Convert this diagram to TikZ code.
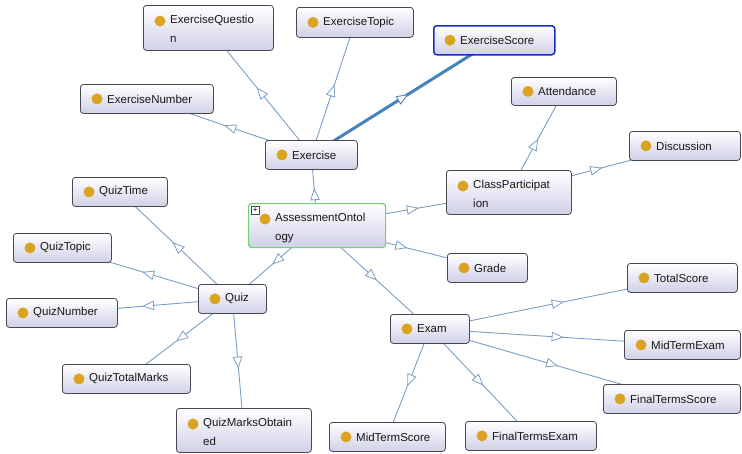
\documentclass[tikz,border=0pt]{standalone}
\usepackage{fontspec}
\setmainfont{Liberation Sans}
\usetikzlibrary{arrows.meta,decorations.markings}
\pgfdeclarelayer{bg}
\pgfsetlayers{bg,main}

\definecolor{edgec}{RGB}{122,158,196}
\definecolor{thickc}{RGB}{70,130,190}
\definecolor{boxbot}{RGB}{208,208,232}
\definecolor{boxline}{RGB}{72,72,80}
\definecolor{dotc}{RGB}{218,164,34}
\definecolor{selc}{RGB}{26,44,190}
\definecolor{rootc}{RGB}{110,210,110}
\definecolor{txtc}{RGB}{24,24,24}

\tikzset{
  clsbox/.style={draw=boxline, line width=0.8pt, rounded corners=3pt,
    top color=white, bottom color=boxbot, inner sep=0pt},
  selbox/.style={clsbox, draw=selc, line width=1.5pt},
  rootbox/.style={clsbox, draw=rootc, line width=1.2pt},
  lbl/.style={inner sep=0pt, text=txtc, align=left,
    font=\fontsize{11.5}{19}\selectfont},
  subarrow/.style={postaction={decorate}, decoration={markings,
    mark=at position 0.53 with {\arrow{Triangle[length=12pt, width=9.5pt,
      line width=0.8pt, fill=white]}}}},
  edge/.style={draw=edgec, line width=0.9pt, subarrow},
  thickedge/.style={draw=thickc, line width=3pt, subarrow},
}

% class box with one line of text: style, name, x1, y1, x2, y2, text
\newcommand\cbox[7]{%
  \node[#1, minimum width=#5-#3, minimum height=#6-#4, anchor=north west] (#2) at (#3,#4) {};
  \fill[dotc] ([xshift=17pt]#2.west) circle (5.5pt);
  \node[lbl, anchor=west] (#2-t) at ([xshift=27pt]#2.west) {#7};
}
% class box with text broken over two lines
\newcommand\cboxtwo[8]{%
  \node[#1, minimum width=#5-#3, minimum height=#6-#4, anchor=north west] (#2) at (#3,#4) {};
  \fill[dotc] ([xshift=17pt,yshift=-16pt]#2.north west) circle (5.5pt);
  \node[lbl, anchor=north west] (#2-t) at ([xshift=27pt,yshift=-10pt]#2.north west) {#7\\#8};
}

\begin{document}
\begin{tikzpicture}[x=1pt, y=-1pt]
\useasboundingbox (0,0) rectangle (742,453);

% classes
\cboxtwo{clsbox}{eq}{143}{5}{273}{50}{ExerciseQuestio}{n}
\cbox{clsbox}{et}{296}{7}{413}{37}{ExerciseTopic}
\cbox{selbox}{es}{433}{25}{554}{54}{ExerciseScore}
\cbox{clsbox}{en}{80}{84}{213}{113}{ExerciseNumber}
\cbox{clsbox}{att}{511}{77}{616}{105}{Attendance}
\cbox{clsbox}{ex}{265}{140}{357}{169}{Exercise}
\cbox{clsbox}{dis}{629}{131}{740}{160}{Discussion}
\cboxtwo{clsbox}{cp}{446}{170}{571}{214}{ClassParticipat}{ion}
\cbox{clsbox}{qtime}{72}{177}{167}{206}{QuizTime}
\cboxtwo{rootbox}{ao}{248}{203}{385}{247}{AssessmentOntol}{ogy}
\cbox{clsbox}{qtopic}{13}{233}{111}{262}{QuizTopic}
\cbox{clsbox}{gr}{447}{253}{527}{282}{Grade}
\cbox{clsbox}{ts}{627}{263}{737}{292}{TotalScore}
\cbox{clsbox}{qz}{198}{284}{266}{313}{Quiz}
\cbox{clsbox}{qnum}{6}{298}{117}{327}{QuizNumber}
\cbox{clsbox}{exam}{390}{314}{469}{343}{Exam}
\cbox{clsbox}{mte}{624}{330}{740}{359}{MidTermExam}
\cbox{clsbox}{qtm}{62}{364}{190}{393}{QuizTotalMarks}
\cbox{clsbox}{fts}{603}{384}{740}{413}{FinalTermsScore}
\cboxtwo{clsbox}{qmo}{176}{408}{311}{452}{QuizMarksObtain}{ed}
\cbox{clsbox}{mts}{329}{422}{445}{451}{MidTermScore}
\cbox{clsbox}{fte}{465}{421}{596}{450}{FinalTermsExam}

% expand marker on the root class
\node[draw=boxline, fill=white, line width=0.5pt, minimum size=8pt, inner sep=0pt,
  font=\fontsize{8}{8}\selectfont, anchor=north west] (aoplus) at (251,206) {+};

% subclass links, centre to centre, behind the boxes
\begin{pgfonlayer}{bg}
\draw[edge] (ao.center) -- (ex.center);
\draw[edge] (ao.center) -- (cp.center);
\draw[edge] (ao.center) -- (gr.center);
\draw[edge] (ao.center) -- (qz.center);
\draw[edge] (ao.center) -- (exam.center);
\draw[edge] (ex.center) -- (eq.center);
\draw[edge] (ex.center) -- (et.center);
\draw[edge] (ex.center) -- (en.center);
\draw[thickedge] (ex.center) -- (es.center);
\draw[edge] (cp.center) -- (att.center);
\draw[edge] (cp.center) -- (dis.center);
\draw[edge] (qz.center) -- (qtime.center);
\draw[edge] (qz.center) -- (qtopic.center);
\draw[edge] (qz.center) -- (qnum.center);
\draw[edge] (qz.center) -- (qtm.center);
\draw[edge] (qz.center) -- (qmo.center);
\draw[edge] (exam.center) -- (ts.center);
\draw[edge] (exam.center) -- (mte.center);
\draw[edge] (exam.center) -- (fts.center);
\draw[edge] (exam.center) -- (mts.center);
\draw[edge] (exam.center) -- (fte.center);
\end{pgfonlayer}
\end{tikzpicture}
\end{document}
